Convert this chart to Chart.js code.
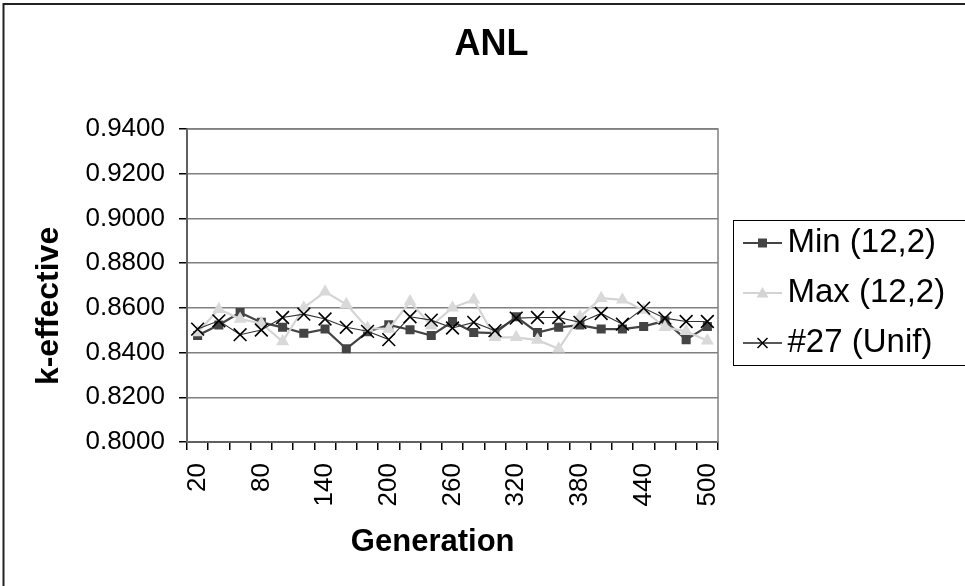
<!DOCTYPE html>
<html>
<head>
<meta charset="utf-8">
<script src="https://cdn.jsdelivr.net/npm/chart.js@4/dist/chart.umd.min.js"></script>
<style>
  html, body { margin: 0; padding: 0; background: #fff; }
  #wrap { width: 965px; height: 586px; position: relative; }
</style>
</head>
<body>
<div id="wrap"><canvas id="c" width="965" height="586"></canvas></div>
<script>
// ---- data ----
const generations = [20,40,60,80,100,120,140,160,180,200,220,240,260,280,300,320,340,360,380,400,420,440,460,480,500];
const minSeries = [0.8476,0.8523,0.8579,0.8535,0.8513,0.8486,0.8505,0.8417,0.8493,0.8524,0.8502,0.8476,0.8539,0.8490,0.8487,0.8560,0.8490,0.8513,0.8523,0.8505,0.8505,0.8517,0.8542,0.8458,0.8517];
const maxSeries = [0.8490,0.8594,0.8550,0.8530,0.8449,0.8601,0.8672,0.8616,0.8510,0.8505,0.8628,0.8520,0.8601,0.8636,0.8468,0.8468,0.8456,0.8417,0.8560,0.8643,0.8636,0.8590,0.8513,0.8495,0.8453];
const unifSeries = [0.8505,0.8542,0.8480,0.8501,0.8557,0.8572,0.8550,0.8513,0.8495,0.8458,0.8560,0.8545,0.8510,0.8535,0.8498,0.8554,0.8557,0.8557,0.8535,0.8575,0.8527,0.8599,0.8554,0.8539,0.8539];
const seriesNames = ['Min (12,2)', 'Max (12,2)', '#27 (Unif)'];
const shownXTicks = ['20','80','140','200','260','320','380','440','500'];
const yTicks = { min: 0.80, max: 0.94, step: 0.02 };

const FONT = '"Liberation Sans", Arial, Helvetica, sans-serif';

// legend symbol images (line + marker)
function legendSymbol(kind) {
  const cv = document.createElement('canvas');
  cv.width = 58; cv.height = 20;
  const g = cv.getContext('2d');
  const cy = 10, cx = 38.5;
  g.beginPath();
  g.moveTo(19, cy); g.lineTo(58, cy);
  if (kind === 0) { g.strokeStyle = '#444'; g.lineWidth = 2; }
  else if (kind === 1) { g.strokeStyle = '#d4d4d4'; g.lineWidth = 2; }
  else { g.strokeStyle = '#222'; g.lineWidth = 1.3; }
  g.stroke();
  if (kind === 0) {
    g.fillStyle = '#444'; g.fillRect(cx - 4.5, cy - 4.5, 9, 9);
  } else if (kind === 1) {
    g.fillStyle = '#d4d4d4';
    g.beginPath(); g.moveTo(cx, cy - 6); g.lineTo(cx + 6, cy + 4.5); g.lineTo(cx - 6, cy + 4.5); g.closePath(); g.fill();
  } else {
    g.strokeStyle = '#000'; g.lineWidth = 1.5;
    g.beginPath(); g.moveTo(cx - 5, cy - 5); g.lineTo(cx + 5, cy + 5);
    g.moveTo(cx + 5, cy - 5); g.lineTo(cx - 5, cy + 5); g.stroke();
  }
  return cv;
}
const legendImgs = [legendSymbol(0), legendSymbol(1), legendSymbol(2)];

const decor = {
  id: 'decor',
  beforeLayout(chart) {
    const lg = chart.legend;
    if (lg && !lg._fixedW) {
      const orig = lg.fit.bind(lg);
      lg.fit = function () { orig(); this.width = 247; };
      lg._fixedW = true;
    }
  },
  beforeDatasetsDraw(chart) {
    const { ctx, chartArea: a } = chart;
    ctx.save();
    ctx.strokeStyle = '#808080';
    ctx.lineWidth = 1.5;
    ctx.strokeRect(a.left, a.top, a.right - a.left, a.bottom - a.top);
    ctx.restore();
  },
  afterDraw(chart) {
    const ctx = chart.ctx;
    ctx.save();
    // outer chart border (top and left visible)
    ctx.strokeStyle = '#222';
    ctx.lineWidth = 2;
    ctx.beginPath();
    ctx.moveTo(3.5, chart.height + 2); ctx.lineTo(3.5, 4); ctx.lineTo(chart.width + 2, 4);
    ctx.stroke();
    // legend border
    const hb = chart.legend.legendHitBoxes;
    if (hb && hb.length) {
      const first = hb[0], last = hb[hb.length - 1];
      const l = Math.round(first.left - 2) + 0.5;
      const t = Math.round(first.top - 7) + 0.5;
      const b = Math.round(last.top + last.height + 5) + 0.5;
      ctx.strokeStyle = '#000';
      ctx.lineWidth = 1;
      ctx.strokeRect(l, t, chart.width + 5 - l, b - t);
    }
    ctx.restore();
  }
};

new Chart(document.getElementById('c'), {
  type: 'line',
  data: {
    labels: generations.map(String),
    datasets: [
      {
        label: seriesNames[0], data: minSeries, order: 3,
        borderColor: '#444', borderWidth: 2.2, backgroundColor: '#444',
        pointStyle: 'rect', pointRadius: 6.4, pointBorderWidth: 0, pointBackgroundColor: '#444', tension: 0
      },
      {
        label: seriesNames[1], data: maxSeries, order: 2,
        borderColor: '#d4d4d4', borderWidth: 2.2, backgroundColor: '#d9d9d9',
        pointStyle: 'triangle', pointRadius: 7.5, pointBorderWidth: 0, pointBackgroundColor: '#d9d9d9', tension: 0
      },
      {
        label: seriesNames[2], data: unifSeries, order: 1,
        borderColor: '#333', borderWidth: 1.1, backgroundColor: '#000',
        pointStyle: 'crossRot', pointRadius: 9, pointBorderWidth: 1.6, pointBorderColor: '#000', tension: 0
      }
    ]
  },
  options: {
    responsive: false,
    animation: false,
    events: [],
    layout: { padding: 0 },
    plugins: {
      title: {
        display: true, text: '\u2002ANL', color: '#000',
        font: { family: FONT, size: 36, weight: 'bold' },
        padding: { top: 23.4, bottom: 62.4 }
      },
      legend: {
        display: true, position: 'right',
        labels: {
          usePointStyle: true, pointStyleWidth: 36, padding: 17, color: '#000',
          font: { family: FONT, size: 33 },
          sort(a, b) { return a.datasetIndex - b.datasetIndex; },
          generateLabels(chart) {
            const items = Chart.defaults.plugins.legend.labels.generateLabels(chart);
            items.forEach((it) => { it.pointStyle = legendImgs[it.datasetIndex]; });
            return items;
          }
        }
      },
      tooltip: { enabled: false }
    },
    scales: {
      x: {
        type: 'category', offset: true,
        grid: { offset: true, drawOnChartArea: false, drawTicks: true, tickLength: 8, color: '#000', lineWidth: 1.5 },
        border: { color: '#000', width: 2 },
        ticks: {
          autoSkip: false, minRotation: 90, maxRotation: 90, padding: 13, color: '#000',
          font: { family: FONT, size: 26 },
          callback(v, i) { const s = this.getLabelForValue(v); return shownXTicks.includes(s) ? s : ''; }
        },
        title: {
          display: true, text: 'Generation\u2002\u2002 ', color: '#000',
          font: { family: FONT, size: 31, weight: 'bold' },
          padding: { top: 0, bottom: 25 }
        },
        afterFit(s) { s.height = 144; }
      },
      y: {
        min: yTicks.min, max: yTicks.max,
        grid: { color: '#808080', lineWidth: 1.5, drawTicks: true, tickLength: 8, tickColor: '#000' },
        border: { color: '#000', width: 2 },
        ticks: {
          stepSize: yTicks.step, padding: 14, color: '#000',
          font: { family: FONT, size: 26 },
          callback(v) { return Number(v).toFixed(4); }
        },
        title: {
          display: true, text: 'k-effective\u2002\u2002 ', color: '#000',
          font: { family: FONT, size: 32, weight: 'bold' },
          padding: { top: 30, bottom: 0 }
        },
        afterFit(s) { s.width = 187; }
      }
    }
  },
  plugins: [decor]
});
</script>
</body>
</html>
